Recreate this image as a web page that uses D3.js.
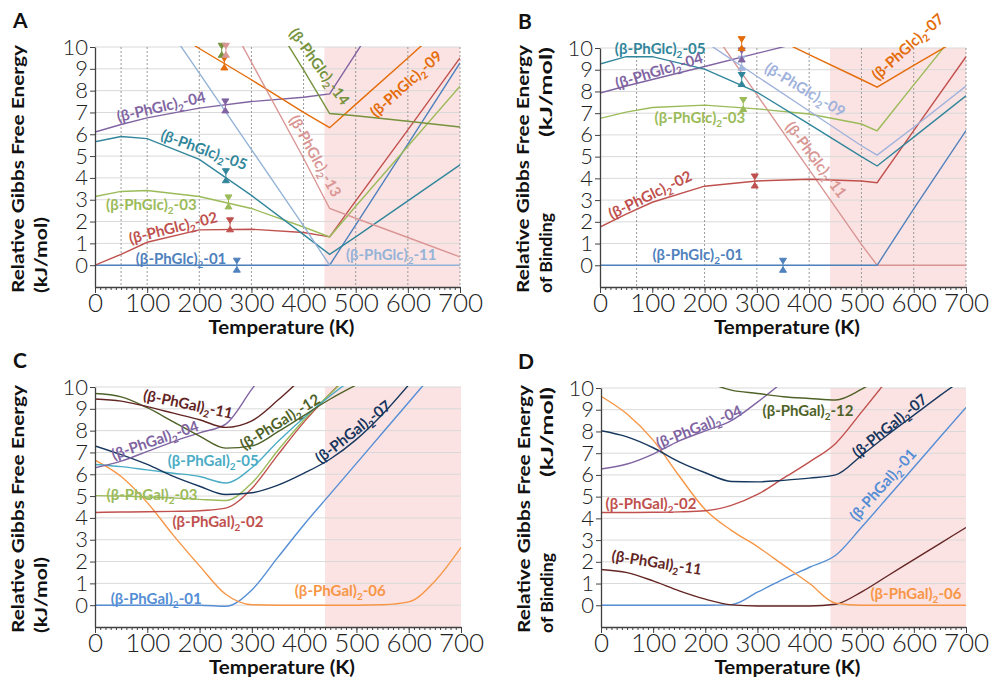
<!DOCTYPE html>
<html>
<head>
<meta charset="utf-8">
<script src="https://cdn.jsdelivr.net/npm/d3@7"></script>
<style>
  body { margin: 0; background: #fff; }
  svg { display: block; }
</style>
</head>
<body>
<svg id="chart" width="989" height="685"></svg>
<script>
// ---- data (temperature in K, relative free energy in kJ/mol) ----
const tempGlcA = [0, 50, 100, 200, 300, 400, 450, 500, 600, 700];
const glcA01 = [0, 0, 0, 0, 0, 0, 0, 1.85, 5.55, 9.27];
const glcA02 = [0, 0.5, 1.05, 1.62, 1.65, 1.5, 1.3, 2.95, 6.2, 9.5];
const glcA03 = [3.15, 3.38, 3.42, 3.15, 2.6, 1.75, 1.3, 2.7, 5.45, 8.2];
const glcA04 = [6.1, 6.45, 6.75, 7.2, 7.5, 7.7, 7.85, 9.7, 13.4, null];
const glcA05 = [5.66, 5.9, 5.8, 4.85, 3.2, 1.4, 0.5, 1.3, 2.95, 4.6];
const glcA09 = [null, null, 11.4, 9.93, 8.5, 7.0, 6.3, 7.37, 9.5, 11.65];
const glcA11 = [null, null, 12.3, 8.8, 5.3, 1.8, 0, 0, 0, 0];
const glcA13 = [null, null, null, 13.7, 9.3, 4.9, 2.6, 2.15, 1.27, 0.38];
const glcA14 = [null, null, null, null, 12.8, 8.95, 6.95, 6.85, 6.6, 6.33];

const tempGlcB = [0, 50, 100, 200, 300, 400, 500, 530, 600, 700];
const glcB01 = [0, 0, 0, 0, 0, 0, 0, 0, 2.6, 6.2];
const glcB02 = [1.76, 2.35, 2.9, 3.64, 3.88, 3.96, 3.88, 3.8, 6.2, 9.6];
const glcB03 = [6.76, 7.05, 7.26, 7.37, 7.2, 6.96, 6.5, 6.19, 8.3, 11.3];
const glcB04 = [7.93, 8.25, 8.55, 9.15, 9.75, 10.35, null, null, null, null];
const glcB05 = [9.26, 9.6, 9.6, 9.03, 7.97, 6.5, 5.0, 4.57, 5.9, 7.8];
const glcB07 = [null, null, null, null, 10.85, 9.7, 8.55, 8.2, 9.2, 10.6];
const glcB09 = [null, null, null, 10.3, 8.7, 7.1, 5.5, 5.07, 6.35, 8.25];
const glcB11 = [null, null, null, 11.3, 7.85, 4.4, 0.96, 0, 0, 0];

const tempGal = [0, 50, 100, 150, 200, 250, 300, 350, 400, 450, 500, 550, 600, 650, 700];
const galC01 = [0, 0, 0, 0, 0, -0.05, 0.7, 2.2, 3.7, 5.1, 6.5, 7.9, 9.3, 10.7, null];
const galC02 = [4.25, 4.27, 4.28, 4.3, 4.33, 4.45, 5.35, 6.9, 8.4, 9.7, 10.9, null, null, null, null];
const galC03 = [5.02, 5.0, 4.96, 4.92, 4.85, 4.8, 5.6, 7.1, 8.5, 9.7, 10.8, null, null, null, null];
const galC04 = [6.3, 6.6, 7.05, 7.5, 7.9, 8.3, 9.9, 11.5, null, null, null, null, null, null, null];
const galC05 = [6.45, 6.35, 6.2, 6.05, 5.9, 5.6, 6.3, 7.5, 8.6, 9.6, 10.5, null, null, null, null];
const galC06 = [6.65, 5.9, 4.7, 3.2, 1.8, 0.5, 0.02, 0, 0, 0, 0, 0.02, 0.15, 1.1, 2.65];
const galC07 = [7.3, 6.9, 6.45, 5.9, 5.45, 5.07, 5.15, 5.5, 6.05, 6.7, 7.6, 8.75, 10.1, null, null];
const galC11 = [9.45, 9.35, 9.1, 8.8, 8.5, 8.15, 8.45, 9.4, 10.5, null, null, null, null, null, null];
const galC12 = [9.7, 9.55, 9.05, 8.4, 7.75, 7.2, 7.3, 7.95, 8.7, 9.45, 10.1, null, null, null, null];

const galD01 = [0, 0, 0, 0, 0, 0.03, 0.6, 1.2, 1.75, 2.3, 3.6, 4.97, 6.35, 7.73, 9.1];
const galD02 = [4.27, 4.27, 4.28, 4.3, 4.35, 4.6, 5.1, 5.85, 6.6, 7.45, 8.9, 10.4, null, null, null];
const galD04 = [6.27, 6.5, 6.96, 7.57, 8.03, 8.5, 9.35, 10.3, null, null, null, null, null, null, null];
const galD06 = [9.62, 8.8, 7.6, 5.95, 4.4, 3.45, 2.7, 1.85, 1.0, 0.1, 0, 0, 0, 0, 0];
const galD07 = [8.03, 7.75, 7.25, 6.6, 6.1, 5.7, 5.68, 5.75, 5.85, 6.0, 6.9, 7.85, 8.75, 9.65, 10.5];
const galD11 = [1.65, 1.5, 1.12, 0.66, 0.28, 0.02, -0.03, -0.03, -0.03, 0.05, 0.62, 1.36, 2.1, 2.84, 3.58];
const galD12 = [null, null, null, null, 10.3, 9.9, 9.75, 9.6, 9.52, 9.45, 9.95, 10.7, null, null, null];

// error-bar markers (conformer, T, energy)
const markA_ids = ['01', '02', '03', '05', '04', '09', '14', '13'];
const markA_temp = [272, 259, 256, 251, 250, 248, 243, 251];
const markA_energy = [0, 1.85, 2.9, 4.1, 7.3, 9.27, 9.85, 9.85];
const markB_ids = ['01', '02', '03', '05', '09', '04', '07'];
const markB_temp = [350, 296, 274, 271, 271, 271, 271];
const markB_energy = [0, 3.88, 7.4, 8.55, 9.3, 9.68, 10.2];

// axes
const xTicks = [0, 100, 200, 300, 400, 500, 600, 700];
const yTicks = [0, 1, 2, 3, 4, 5, 6, 7, 8, 9, 10];
const dashedA = [50, 100, 200, 300, 400, 500, 600, 700];
const dashedB = [70, 200, 300, 400, 500, 600, 700];
const shadeStart = 440;

// ---- styles ----
const colorsGlcA = { '01': '#4f81bd', '02': '#c0504d', '03': '#9bbb59', '04': '#8064a2', '05': '#31869b',
  '09': '#e46c0a', '11': '#95b3d7', '13': '#d99694', '14': '#76923c' };
const colorsGlcB = { '01': '#4f81bd', '02': '#c0504d', '03': '#9bbb59', '04': '#8064a2', '05': '#31869b',
  '07': '#e46c0a', '09': '#9fb2dc', '11': '#d99694' };
const colorsGal = { '01': '#558ed5', '02': '#c0504d', '03': '#9bbb59', '04': '#8064a2', '05': '#4bacc6',
  '06': '#f79646', '07': '#17375e', '11': '#632523', '12': '#4f6228' };

// label placement (data coords + rotation)
const labelsA = [
  { id: '04', t: 127, e: 7.25, rot: -13 }, { id: '05', t: 209, e: 5.28, rot: 20 },
  { id: '03', t: 108, e: 2.76, rot: 0 }, { id: '02', t: 150, e: 1.7, rot: -14 },
  { id: '01', t: 165, e: 0.28, rot: 0 }, { id: '14', t: 430, e: 9.1, rot: 54 },
  { id: '09', t: 597, e: 8.3, rot: -42 }, { id: '13', t: 422, e: 5.0, rot: 61 },
  { id: '11', t: 568, e: 0.47, rot: 0 }
];
const labelsB = [
  { id: '05', t: 115, e: 9.95, rot: 0 }, { id: '04', t: 113, e: 8.95, rot: -17 },
  { id: '03', t: 191, e: 6.78, rot: 0 }, { id: '02', t: 96, e: 3.23, rot: -26 },
  { id: '01', t: 187, e: 0.48, rot: 0 }, { id: '09', t: 392, e: 8.07, rot: 31 },
  { id: '11', t: 413, e: 4.85, rot: 53 }, { id: '07', t: 589, e: 10.05, rot: -42 }
];
const labelsC = [
  { id: '11', t: 178, e: 9.2, rot: 12 }, { id: '04', t: 115, e: 7.55, rot: -19 },
  { id: '12', t: 354, e: 8.4, rot: -32 }, { id: '05', t: 226, e: 6.6, rot: 0 },
  { id: '03', t: 109, e: 5.05, rot: 0 }, { id: '02', t: 235, e: 3.8, rot: 0 },
  { id: '01', t: 117, e: 0.28, rot: 0 }, { id: '07', t: 494, e: 7.94, rot: -38 },
  { id: '06', t: 469, e: 0.65, rot: 0 }
];
const labelsD = [
  { id: '04', t: 188, e: 8.2, rot: -22 }, { id: '12', t: 397, e: 8.93, rot: 0 },
  { id: '02', t: 96, e: 4.66, rot: 0 }, { id: '11', t: 107, e: 1.95, rot: 9 },
  { id: '07', t: 554, e: 8.25, rot: -39 }, { id: '01', t: 541, e: 5.54, rot: -48 },
  { id: '06', t: 604, e: 0.52, rot: 0 }
];

const FONT = 'Lato, "Open Sans", "DejaVu Sans", sans-serif';
const svg = d3.select('#chart');
const defs = svg.append('defs');

function drawPanel(p) {
  const x = d3.scaleLinear().domain([0, 700]).range([p.left, p.left + p.width]);
  const y = d3.scaleLinear().domain([-1, 10]).range([p.top + p.height, p.top]);
  const g = svg.append('g');

  // high-temperature shading
  g.append('rect')
    .attr('x', x(shadeStart)).attr('y', y(10))
    .attr('width', x(700) - x(shadeStart)).attr('height', y(-1) - y(10))
    .attr('fill', '#fce3e3');

  g.selectAll('line.hgrid').data(yTicks).join('line')
    .attr('class', 'hgrid')
    .attr('x1', x(0)).attr('x2', x(700))
    .attr('y1', d => y(d)).attr('y2', d => y(d))
    .attr('stroke', '#d9d9d9').attr('stroke-width', 1);

  g.selectAll('line.vgrid').data(p.dashed || []).join('line')
    .attr('class', 'vgrid')
    .attr('x1', d => x(d)).attr('x2', d => x(d))
    .attr('y1', y(10)).attr('y2', y(-1))
    .attr('stroke', '#9a9a9a').attr('stroke-width', 1).attr('stroke-dasharray', '2,2');

  defs.append('clipPath').attr('id', 'clip-' + p.letter)
    .append('rect')
    .attr('x', x(0)).attr('y', y(10) - 1)
    .attr('width', x(700) - x(0)).attr('height', y(-1) - y(10) + 1);

  const line = d3.line()
    .defined(d => d[1] != null)
    .x(d => x(d[0]))
    .y(d => y(d[1]))
    .curve(p.curve);

  p.series.forEach(s => {
    g.append('path')
      .datum(p.temps.map((t, i) => [t, s.values[i]]))
      .attr('d', line)
      .attr('fill', 'none')
      .attr('stroke', p.colors[s.id])
      .attr('stroke-width', 1.4)
      .attr('clip-path', `url(#clip-${p.letter})`);
  });

  // axes
  const minor = g.append('g')
    .attr('transform', `translate(0,${y(-1)})`)
    .attr('color', '#404040')
    .call(d3.axisBottom(x).tickValues(d3.range(0, 701, 10)).tickSize(3).tickFormat(''));
  minor.select('.domain').remove();

  const xa = g.append('g')
    .attr('transform', `translate(0,${y(-1)})`)
    .attr('color', '#404040')
    .call(d3.axisBottom(x).tickValues(xTicks).tickSizeInner(6).tickSizeOuter(0).tickPadding(1));
  xa.attr('font-family', FONT).attr('font-size', 26);
  xa.selectAll('text').attr('font-weight', 300).attr('fill', '#222');
  xa.select('.domain').attr('stroke-width', 1.3);

  const ya = g.append('g')
    .attr('transform', `translate(${x(0)},0)`)
    .attr('color', '#404040')
    .call(d3.axisLeft(y).tickValues(yTicks).tickSizeInner(5).tickSizeOuter(0).tickPadding(2));
  ya.attr('font-family', FONT).attr('font-size', 22);
  ya.selectAll('text').attr('font-weight', 300).attr('fill', '#222');
  ya.select('.domain').attr('stroke-width', 1.3);

  // error-bar markers
  if (p.marks) {
    p.marks.ids.forEach((id, i) => {
      const c = p.colors[id];
      g.append('path')
        .attr('transform', `translate(${x(p.marks.temp[i])},${y(p.marks.energy[i])})`)
        .attr('d', 'M-3.5,-7L3.5,-7L0,-1.5ZM-3.5,7L3.5,7L0,1.5ZM0,-2L0,2')
        .attr('fill', c).attr('stroke', c).attr('stroke-width', 1);
    });
  }

  // curve labels
  p.labels.forEach(l => {
    const t = g.append('text')
      .attr('transform', `translate(${x(l.t)},${y(l.e)}) rotate(${l.rot})`)
      .attr('text-anchor', 'middle')
      .attr('y', 5)
      .attr('font-family', FONT)
      .attr('font-size', 15)
      .attr('font-weight', 700)
      .attr('fill', p.colors[l.id]);
    t.append('tspan').text(p.prefix);
    t.append('tspan').attr('dy', 4).attr('font-size', 10).text('2');
    t.append('tspan').attr('dy', -4).text('-' + l.id);
  });

  // titles
  g.append('text')
    .attr('x', (x(0) + x(700)) / 2 + 4).attr('y', y(-1) + 47)
    .attr('text-anchor', 'middle')
    .attr('font-family', FONT).attr('font-size', 18).attr('font-weight', 700)
    .attr('fill', '#111')
    .attr('textLength', 146).attr('lengthAdjust', 'spacingAndGlyphs')
    .text('Temperature (K)');

  const bottom = y(-1) + 6;
  const yt = (bx, by, anchor, str, len) => {
    const t = g.append('text')
      .attr('transform', `translate(${bx},${by}) rotate(-90)`)
      .attr('text-anchor', anchor)
      .attr('font-family', FONT).attr('font-size', 17).attr('font-weight', 700)
      .attr('fill', '#111')
      .text(str);
    if (len) t.attr('textLength', len).attr('lengthAdjust', 'spacingAndGlyphs');
  };
  yt(p.left - 71, bottom, 'start', 'Relative  Gibbs Free Energy', 248);
  if (p.binding) {
    yt(p.left - 48, bottom, 'start', 'of Binding', 80);
    yt(p.left - 48, y(10) - 1, 'end', '(kJ/mol)', 90);
  } else {
    yt(p.left - 48, bottom, 'start', '(kJ/mol)', 76);
  }

  svg.append('text')
    .attr('x', p.left < 300 ? 13 : 518).attr('y', p.top - 19)
    .attr('font-family', FONT).attr('font-size', 21).attr('font-weight', 700)
    .attr('fill', '#111')
    .text(p.letter);
}

drawPanel({
  letter: 'A', left: 95, top: 47, width: 365, height: 240,
  temps: tempGlcA, curve: d3.curveLinear, colors: colorsGlcA, prefix: '(β-PhGlc)',
  dashed: dashedA, binding: false,
  series: [
    { id: '01', values: glcA01 }, { id: '02', values: glcA02 }, { id: '03', values: glcA03 },
    { id: '05', values: glcA05 }, { id: '04', values: glcA04 }, { id: '11', values: glcA11 },
    { id: '09', values: glcA09 }, { id: '13', values: glcA13 }, { id: '14', values: glcA14 }
  ],
  marks: { ids: markA_ids, temp: markA_temp, energy: markA_energy },
  labels: labelsA
});

drawPanel({
  letter: 'B', left: 600, top: 48, width: 366, height: 239,
  temps: tempGlcB, curve: d3.curveLinear, colors: colorsGlcB, prefix: '(β-PhGlc)',
  dashed: dashedB, binding: true,
  series: [
    { id: '11', values: glcB11 }, { id: '01', values: glcB01 }, { id: '02', values: glcB02 },
    { id: '03', values: glcB03 }, { id: '04', values: glcB04 }, { id: '05', values: glcB05 },
    { id: '09', values: glcB09 }, { id: '07', values: glcB07 }
  ],
  marks: { ids: markB_ids, temp: markB_temp, energy: markB_energy },
  labels: labelsB
});

drawPanel({
  letter: 'C', left: 95, top: 387, width: 366, height: 240,
  temps: tempGal, curve: d3.curveMonotoneX, colors: colorsGal, prefix: '(β-PhGal)',
  dashed: [], binding: false,
  series: [
    { id: '01', values: galC01 }, { id: '06', values: galC06 }, { id: '02', values: galC02 },
    { id: '03', values: galC03 }, { id: '05', values: galC05 }, { id: '07', values: galC07 },
    { id: '04', values: galC04 }, { id: '12', values: galC12 }, { id: '11', values: galC11 }
  ],
  labels: labelsC
});

drawPanel({
  letter: 'D', left: 601, top: 388, width: 365, height: 239,
  temps: tempGal, curve: d3.curveMonotoneX, colors: colorsGal, prefix: '(β-PhGal)',
  dashed: [], binding: true,
  series: [
    { id: '01', values: galD01 }, { id: '11', values: galD11 }, { id: '06', values: galD06 },
    { id: '02', values: galD02 }, { id: '07', values: galD07 }, { id: '04', values: galD04 },
    { id: '12', values: galD12 }
  ],
  labels: labelsD
});
</script>
</body>
</html>
